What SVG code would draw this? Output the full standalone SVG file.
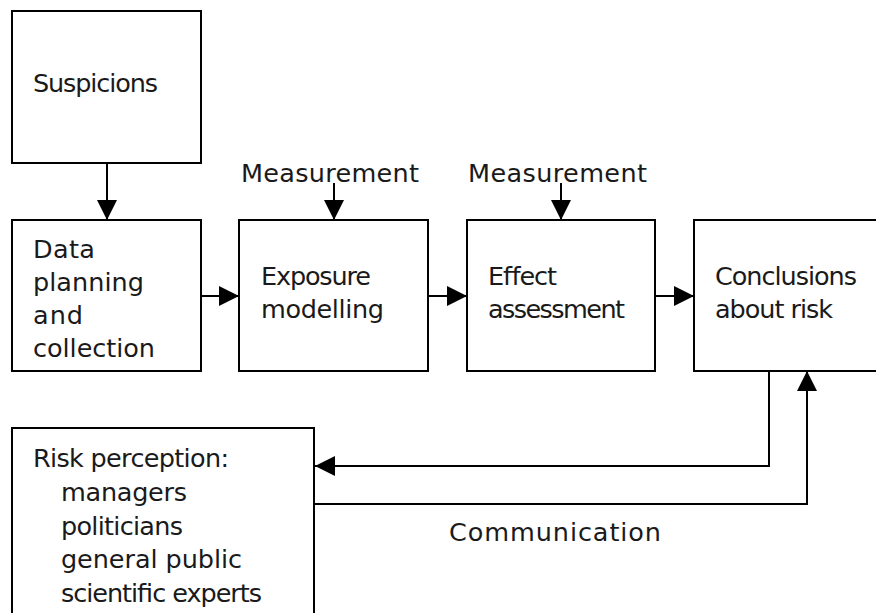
<svg xmlns="http://www.w3.org/2000/svg" width="876" height="613" viewBox="0 0 876 613">
  <style>
    .box { fill: #ffffff; stroke: #000000; stroke-width: 2; }
    .conn { fill: none; stroke: #000000; stroke-width: 2; }
    text { font-family: "DejaVu Sans", "Liberation Sans", sans-serif; font-size: 25.5px; fill: #1a1a1a; }
  </style>
  <defs>
    <marker id="arrow" viewBox="0 0 20 20" refX="20" refY="10" markerWidth="20" markerHeight="20" markerUnits="userSpaceOnUse" orient="auto">
      <path d="M0,0 L20,10 L0,20 Z" fill="#000000"/>
    </marker>
  </defs>
  <rect width="876" height="613" fill="#ffffff"/>

  <g id="suspicions">
    <rect class="box" x="12" y="11" width="189" height="152"/>
    <text x="33" y="92" textLength="125">Suspicions</text>
  </g>

  <g id="data-planning">
    <rect class="box" x="12" y="220" width="189" height="151"/>
    <text x="33" y="258" textLength="62">Data</text>
    <text x="33" y="291" textLength="111">planning</text>
    <text x="33" y="324" textLength="50">and</text>
    <text x="33" y="357" textLength="122">collection</text>
  </g>

  <g id="exposure-modelling">
    <rect class="box" x="239" y="220" width="189" height="151"/>
    <text x="261" y="285" textLength="110">Exposure</text>
    <text x="261" y="318" textLength="123">modelling</text>
  </g>

  <g id="effect-assessment">
    <rect class="box" x="467" y="220" width="188" height="151"/>
    <text x="488" y="285" textLength="69">Effect</text>
    <text x="488" y="318" textLength="137">assessment</text>
  </g>

  <g id="conclusions">
    <rect class="box" x="694" y="220" width="192" height="151"/>
    <text x="715" y="285" textLength="142">Conclusions</text>
    <text x="715" y="318" textLength="118">about risk</text>
  </g>

  <g id="risk-perception">
    <rect class="box" x="12" y="428" width="302" height="200"/>
    <text x="33" y="467" textLength="196">Risk perception:</text>
    <text x="61" y="501" textLength="126">managers</text>
    <text x="61" y="535" textLength="122">politicians</text>
    <text x="61" y="568" textLength="181">general public</text>
    <text x="61" y="602" textLength="201">scientific experts</text>
  </g>

  <g id="labels">
    <text x="241" y="182" textLength="178">Measurement</text>
    <text x="468" y="182" textLength="179">Measurement</text>
    <text x="449" y="541" textLength="212">Communication</text>
  </g>

  <g id="connectors">
    <line class="conn" x1="107" y1="163" x2="107" y2="220" marker-end="url(#arrow)"/>
    <line class="conn" x1="201" y1="296" x2="239" y2="296" marker-end="url(#arrow)"/>
    <line class="conn" x1="428" y1="296" x2="467" y2="296" marker-end="url(#arrow)"/>
    <line class="conn" x1="655" y1="296" x2="694" y2="296" marker-end="url(#arrow)"/>
    <line class="conn" x1="334" y1="183" x2="334" y2="220" marker-end="url(#arrow)"/>
    <line class="conn" x1="561" y1="183" x2="561" y2="220" marker-end="url(#arrow)"/>
    <path class="conn" d="M769,371 V466 H315" marker-end="url(#arrow)"/>
    <path class="conn" d="M314,504 H807 V371" marker-end="url(#arrow)"/>
  </g>
</svg>
